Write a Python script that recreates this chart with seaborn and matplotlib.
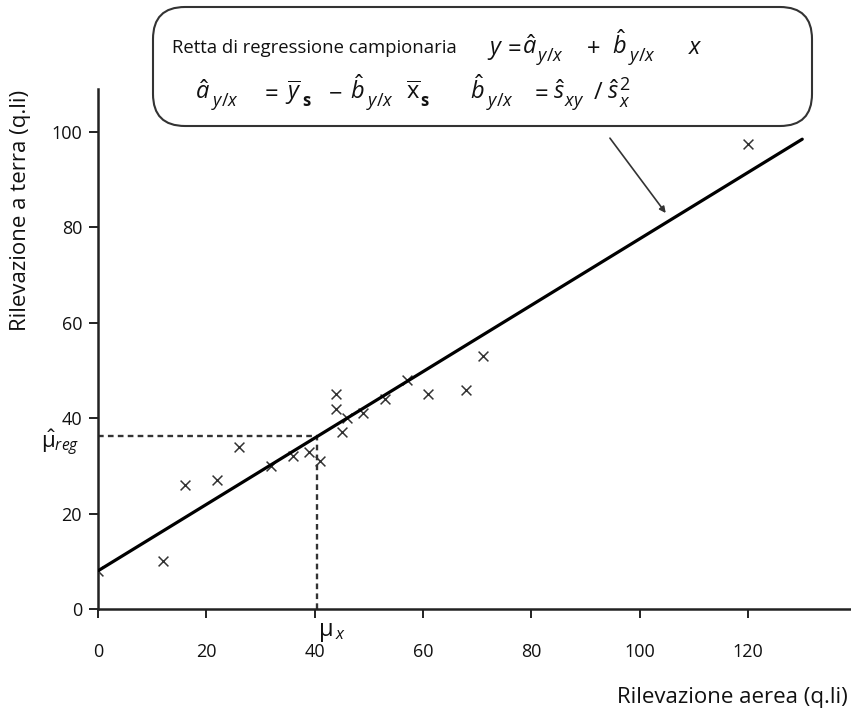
import matplotlib
matplotlib.use("Agg")
import matplotlib.pyplot as plt
from matplotlib.patches import FancyBboxPatch
import pandas as pd
import seaborn as sns

# Sample: aerial survey (x) vs ground survey (y), quintals
x_aerea = [0, 12, 16, 22, 26, 32, 36, 39, 41, 44, 44, 45, 46, 49, 53, 57, 61, 68, 71, 120]
y_terra = [8, 10, 26, 27, 34, 30, 32, 33, 31, 45, 42, 37, 40, 41, 44, 48, 45, 46, 53, 97.5]

# Sample regression coefficients and population mean of x
a_hat = 8.0
b_hat = 0.696
mu_x = 40.5
line_x = [0, 130]

x_ticks = [0, 20, 40, 60, 80, 100, 120]
y_ticks = [0, 20, 40, 60, 80, 100]

sns.set_theme(style="white")
plt.rcParams["font.family"] = ["Open Sans", "DejaVu Sans"]
plt.rcParams["mathtext.fontset"] = "custom"
plt.rcParams["mathtext.rm"] = "Open Sans"
plt.rcParams["mathtext.it"] = "Open Sans:italic"
plt.rcParams["mathtext.bf"] = "Open Sans:bold"

W, H = 851, 708
fig = plt.figure(figsize=(W / 100, H / 100), dpi=100)
ax = fig.add_axes([98 / W, 1 - 609 / H, 753 / W, 520 / H])

ink = "#111111"
df = pd.DataFrame({"x": x_aerea, "y": y_terra})
sns.scatterplot(data=df, x="x", y="y", marker="x", s=50, color="#333333",
                linewidth=1.1, ax=ax, zorder=3)

line_df = pd.DataFrame({"x": line_x, "y": [a_hat + b_hat * v for v in line_x]})
sns.lineplot(data=line_df, x="x", y="y", color="black", linewidth=2.3, ax=ax, zorder=4)

mu_reg = a_hat + b_hat * mu_x
ax.plot([0, mu_x], [mu_reg, mu_reg], color="#333333", lw=1.7, ls=(0, (2.4, 1.8)), zorder=2)
ax.plot([mu_x, mu_x], [0, mu_reg], color="#333333", lw=1.7, ls=(0, (2.4, 1.8)), zorder=2)

ax.set_xlim(0, 139)
ax.set_ylim(0, 109)
ax.set_xticks(x_ticks)
ax.set_yticks(y_ticks)
ax.set_xlabel("")
ax.set_ylabel("")
for side in ("top", "right"):
    ax.spines[side].set_visible(False)
for side in ("left", "bottom"):
    ax.spines[side].set_color("#222222")
    ax.spines[side].set_linewidth(1.8)
ax.tick_params(axis="both", direction="out", length=6.5, width=1.4, color="#222222",
               labelsize=13, labelcolor=ink, left=True, bottom=True)
ax.tick_params(axis="x", pad=18)
ax.tick_params(axis="y", pad=5)

ax.text(-7.0, mu_reg - 1.3, r"$\hat{\mathrm{\mu}}_{reg}$", fontsize=16, ha="center",
        va="center", color=ink, clip_on=False)
ax.text(mu_x + 2.6, -4.8, r"$\mathrm{\mu}_{\,x}$", fontsize=17, ha="center", va="center",
        color=ink, clip_on=False)

fig.text(21 / W, 1 - 210 / H, "Rilevazione a terra (q.li)", rotation=90, fontsize=16,
         ha="center", va="center", color=ink)
fig.text(848 / W, 1 - 697 / H, "Rilevazione aerea (q.li)", fontsize=16,
         ha="right", va="center", color=ink)

# Callout box with the regression formulas (pixel layout converted to inches)
box = FancyBboxPatch((1.53, (H - 126) / 100), (812 - 153) / 100, (126 - 7) / 100,
                     boxstyle="round,pad=0,rounding_size=0.32",
                     transform=fig.dpi_scale_trans, facecolor="white",
                     edgecolor="#333333", linewidth=1.5)
fig.patches.append(box)


def put(px, py, s, size=17, va="baseline"):
    fig.text(px / W, 1 - py / H, s, fontsize=size, ha="left", va=va, color=ink)


put(172, 48, "Retta di regressione campionaria", size=13.3, va="center")

# y = a + b x
put(487, 54, r"$y$")
put(503, 54, r"$=$")
put(522, 54, r"$\hat{a}$")
put(536, 61, r"$y/x$", size=13)
put(586, 54, r"$+$")
put(612, 54, r"$\hat{b}$")
put(628, 61, r"$y/x$", size=13)
put(688, 54, r"$x$")

# a = y_s - b x_s
put(195, 99, r"$\hat{a}$")
put(211, 106, r"$y/x$", size=13)
put(260, 99, r"$=$")
put(285, 99, r"$\overline{y}$")
put(302, 106, r"$\mathbf{s}$", size=12)
put(328, 99, r"$-$")
put(350, 99, r"$\hat{b}$")
put(366, 106, r"$y/x$", size=13)
put(406, 99, r"$\overline{\mathrm{x}}$")
put(420, 106, r"$\mathbf{s}$", size=12)

# b = s_xy / s_x^2
put(470, 99, r"$\hat{b}$")
put(486, 106, r"$y/x$", size=13)
put(530, 99, r"$=$")
put(553, 99, r"$\hat{s}$")
put(564, 106, r"$xy$", size=13)
put(593, 99, r"$/$")
put(607, 99, r"$\hat{s}$")
put(619, 90, r"$2$", size=13)
put(619, 107, r"$x$", size=13)

ax.annotate("", xy=(104.8, 83.0), xytext=(94.5, 98.7),
            arrowprops=dict(arrowstyle="-|>", color="#333333", lw=1.2,
                            mutation_scale=9, shrinkA=0, shrinkB=0))

fig.savefig("out.png", dpi=100)
